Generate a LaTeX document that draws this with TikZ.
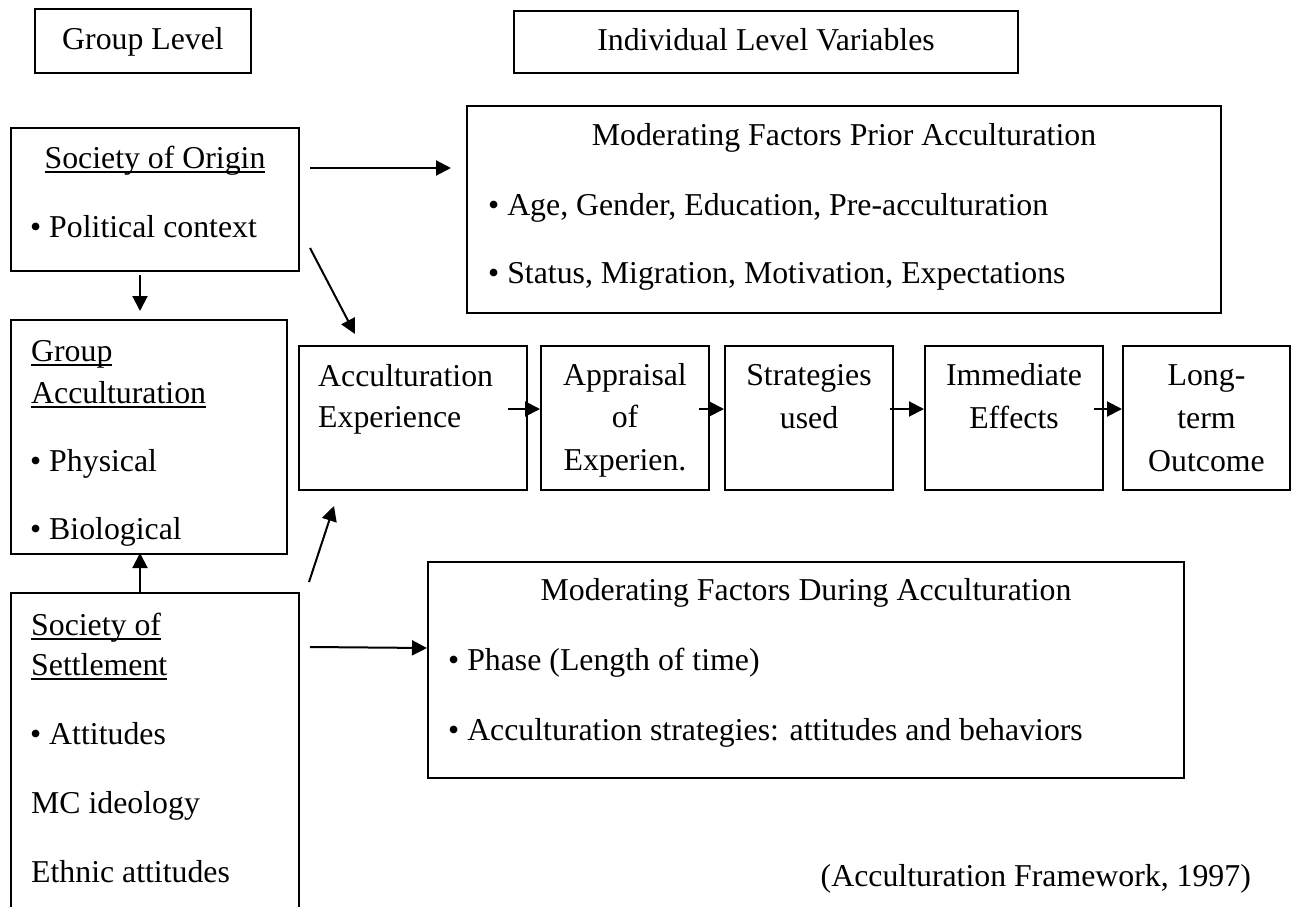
\documentclass[tikz,border=0pt]{standalone}
\usepackage{fontspec}
\setmainfont{Liberation Serif}
\usetikzlibrary{arrows.meta}

\newcommand{\undl}[1]{\setbox0\hbox{#1}\rlap{\rule[-4.5pt]{\wd0}{1.6pt}}\box0}
\newcommand{\bul}{\textbullet\ }

\begin{document}
\begin{tikzpicture}[x=1pt, y=-1pt, line join=miter,
    font=\fontsize{31.8}{38}\selectfont,
    box/.style={draw, line width=2pt, inner sep=0pt},
    txt/.style={anchor=base west, inner sep=0pt},
    mid/.style={anchor=base, inner sep=0pt},
    arr/.style={line width=2pt, -{Triangle[length=15pt, width=15pt]}}]
    \useasboundingbox (0,0) rectangle (1291,907);
    \clip (0,0) rectangle (1291,907);

    % Level headings
    \node[box, minimum width=216pt, minimum height=64pt] (grouplevel) at (143,41) {};
    \node[box, minimum width=504pt, minimum height=62pt] (indiv) at (766,42) {};
    \node[mid] (grouplabel) at (143,50) {Group Level};
    \node[mid] (indivlabel) at (766,51) {Individual Level Variables};

    % Group level boxes
    \node[box, minimum width=288pt, minimum height=143pt] (origin) at (155,199.5) {};
    \node[box, minimum width=276pt, minimum height=234pt] (groupacc) at (149,437) {};
    \node[box, minimum width=288pt, minimum height=347pt] (settlement) at (155,766.5) {};

    \node[mid] (origintitle) at (155,168) {\undl{Society of Origin}};
    \node[txt] (origin1) at (30,237) {\bul Political context};

    \node[txt] (acctitle1) at (31,361) {\undl{Group}};
    \node[txt] (acctitle2) at (31,403) {\undl{Acculturation}};
    \node[txt] (acc1) at (30,471) {\bul Physical};
    \node[txt] (acc2) at (30,539) {\bul Biological};

    \node[txt] (settitle1) at (31,635) {\undl{Society of}};
    \node[txt] (settitle2) at (31,675) {\undl{Settlement}};
    \node[txt] (set1) at (30,744) {\bul Attitudes};
    \node[txt] (set2) at (31,813) {MC ideology};
    \node[txt] (set3) at (31,882) {Ethnic attitudes};

    % Moderating factors
    \node[box, minimum width=754pt, minimum height=207pt] (prior) at (844,209.5) {};
    \node[mid] (priortitle) at (844,145) {Moderating Factors Prior Acculturation};
    \node[txt] (prior1) at (488,215) {\bul Age, Gender, Education, Pre-acculturation};
    \node[txt] (prior2) at (488,283) {\bul Status, Migration, Motivation, Expectations};

    \node[box, minimum width=756pt, minimum height=216pt] (during) at (806,670) {};
    \node[mid] (duringtitle) at (806,600) {Moderating Factors During Acculturation};
    \node[txt] (during1) at (448,670) {\bul Phase (Length of time)};
    \node[txt] (during2) at (448,740) {\bul Acculturation strategies: attitudes and behaviors};

    % Individual process chain
    \node[box, minimum width=228pt, minimum height=144pt] (experience) at (413,418) {};
    \node[box, minimum width=168pt, minimum height=144pt] (appraisal) at (625,418) {};
    \node[box, minimum width=168pt, minimum height=144pt] (strategies) at (809,418) {};
    \node[box, minimum width=178pt, minimum height=144pt] (immediate) at (1014,418) {};
    \node[box, minimum width=167pt, minimum height=144pt] (outcome) at (1206.5,418) {};

    \node[txt] (exp1) at (318,386) {Acculturation};
    \node[txt] (exp2) at (318,427) {Experience};
    \node[mid] (app1) at (625,385) {Appraisal};
    \node[mid] (app2) at (625,427) {of};
    \node[mid] (app3) at (625,470) {Experien.};
    \node[mid] (str1) at (809,385) {Strategies};
    \node[mid] (str2) at (809,428) {used};
    \node[mid] (imm1) at (1014,385) {Immediate};
    \node[mid] (imm2) at (1014,428) {Effects};
    \node[mid] (out1) at (1206.5,385) {Long-};
    \node[mid] (out2) at (1206.5,428) {term};
    \node[mid] (out3) at (1206.5,471) {Outcome};

    \node[anchor=base east, inner sep=0pt] (source) at (1251,886) {(Acculturation Framework, 1997)};

    % Arrows
    \draw[arr] ([xshift=10pt, yshift=31.5pt]origin.east) -- ([xshift=-15pt, yshift=41.5pt]prior.west);
    \draw[arr] ([xshift=-15pt, yshift=-3pt]origin.south) -- ([xshift=-9pt, yshift=8pt]groupacc.north);
    \draw[arr] ([xshift=10pt, yshift=-48.5pt]origin.east) -- ([xshift=57pt, yshift=11pt]experience.north west);
    \draw[arr] ([xshift=-15pt]settlement.north) -- ([xshift=-9pt, yshift=2pt]groupacc.south);
    \draw[arr] ([xshift=9pt, yshift=10pt]settlement.north east) -- ([xshift=36pt, yshift=-15pt]experience.south west);
    \draw[arr] ([xshift=10pt, yshift=-55pt]settlement.north east) -- ([yshift=22pt]during.west);

    \draw[arr] ([xshift=-20pt, yshift=9pt]experience.east) -- ([yshift=9pt]appraisal.west);
    \draw[arr] ([xshift=-11pt, yshift=9pt]appraisal.east) -- ([yshift=9pt]strategies.west);
    \draw[arr] ([xshift=-4pt, yshift=9pt]strategies.east) -- ([yshift=9pt]immediate.west);
    \draw[arr] ([xshift=-10pt, yshift=9pt]immediate.east) -- ([yshift=9pt]outcome.west);
\end{tikzpicture}
\end{document}
